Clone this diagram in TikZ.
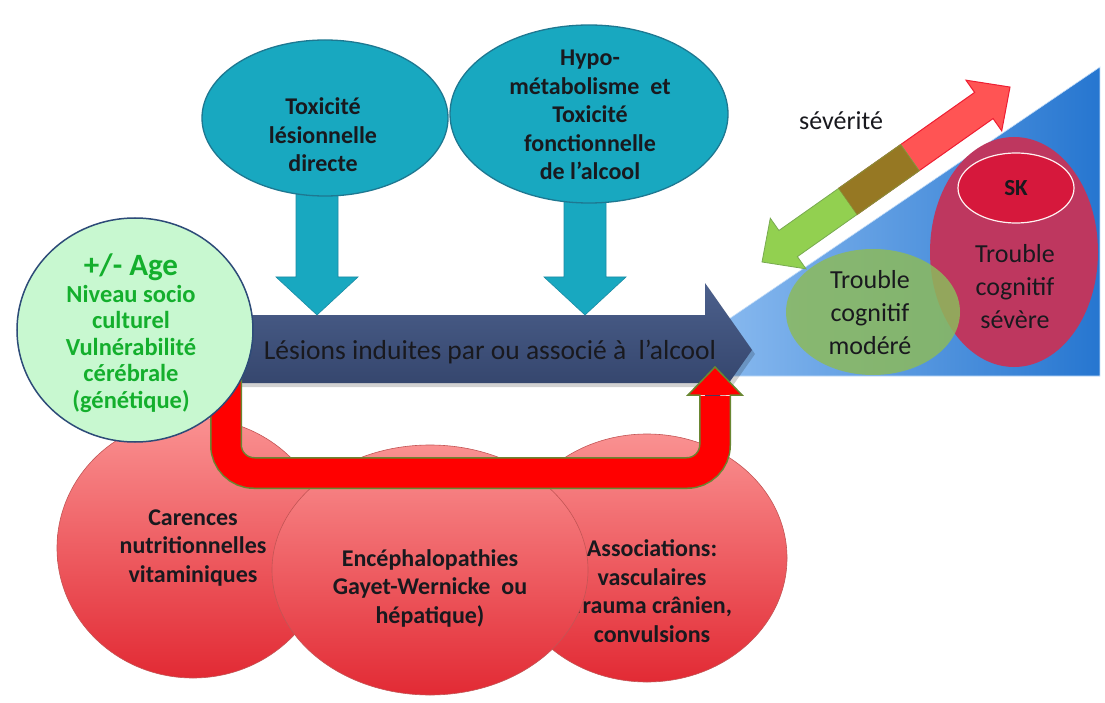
\documentclass[tikz,border=0pt]{standalone}
\usepackage{fontspec}
\setmainfont{Carlito}
\usetikzlibrary{shapes.geometric,calc}
\definecolor{tealF}{RGB}{24,168,192}
\definecolor{tealD}{RGB}{30,120,145}
\definecolor{navyT}{RGB}{76,96,140}
\definecolor{navyB}{RGB}{46,62,100}
\definecolor{mint}{RGB}{200,248,208}
\definecolor{mintD}{RGB}{45,75,120}
\definecolor{ageG}{RGB}{20,175,45}
\definecolor{uRed}{RGB}{255,0,0}
\definecolor{uEdge}{RGB}{105,135,50}
\definecolor{cTop}{RGB}{250,145,145}
\definecolor{cBot}{RGB}{226,42,52}
\definecolor{cEdge}{RGB}{195,85,85}
\definecolor{triL}{RGB}{155,198,245}
\definecolor{triR}{RGB}{38,118,208}
\definecolor{sevF}{RGB}{190,55,95}
\definecolor{skF}{RGB}{214,24,60}
\definecolor{modF}{RGB}{140,186,92}
\definecolor{arrR}{RGB}{255,84,84}
\definecolor{arrRD}{RGB}{238,30,50}
\definecolor{arrG}{RGB}{146,208,80}
\definecolor{arrGD}{RGB}{120,170,80}
\definecolor{oliveS}{RGB}{150,120,35}
\definecolor{txt}{RGB}{25,25,30}
\newcommand{\tealdown}[1]{%
  \path[tealarr] (#1-21,185) -- (#1+21,185) -- (#1+21,277) -- (#1+41,277) -- (#1,315) -- (#1-41,277) -- (#1-21,277) -- cycle;}
\begin{document}
\begin{tikzpicture}[x=1pt,y=-1pt,
  tealell/.style={ellipse, draw=tealD, line width=1.3pt, fill=tealF, inner sep=0pt},
  tealarr/.style={fill=tealF, draw=tealD!60!tealF, line width=0.6pt},
  redcirc/.style={ellipse, top color=cTop, bottom color=cBot, draw=cEdge, line width=0.6pt, inner sep=0pt},
  boldtxt/.style={font=\bfseries\fontsize{24}{28.5}\selectfont, align=center, text=txt},
  regtxt/.style={font=\fontsize{26}{33}\selectfont, align=center, text=txt},
  plain/.style={ellipse, inner sep=0pt}]
\fill[white] (0,0) rectangle (1105,703);
\useasboundingbox (0,0) rectangle (1105,703);

% blue triangle
\path[left color=triL, right color=triR, draw=triL!60!white, line width=0.6pt]
  (645,376) -- (1100,376) -- (1100,67) -- cycle;

% teal down arrows
\coordinate (ta) at (317,315);
\coordinate (tb) at (585,315);
\tealdown{317}
\tealdown{585}

% teal ellipses
\node[tealell, minimum width=246pt, minimum height=156pt] (tox) at (325,118) {};
\node[boldtxt] (toxt) at (323,135) {Toxicité\\lésionnelle\\directe};
\node[tealell, minimum width=278pt, minimum height=178pt] (hypo) at (589,114) {};
\node[boldtxt] (hypot) at (590,115) {Hypo-\\métabolisme\ \ et\\Toxicité\\fonctionnelle\\de l’alcool};

% dark main arrow
\fill[black, opacity=.18] (241,319) -- (708,319) -- (708,287) -- (755,354) -- (708,421) -- (708,387) -- (241,387) -- cycle;
\path[top color=navyT, bottom color=navyB] (238,315) -- (705,315) -- (705,283) -- (752,350) -- (705,417) -- (705,383) -- (238,383) -- cycle;
\node[font=\fontsize{27.5}{32}\selectfont, text=txt] (lesions) at (490,352) {Lésions induites par ou associé à\ \ l’alcool};

% bottom circles
\node[redcirc, minimum width=272pt, minimum height=260pt] (c1) at (193,548) {};
\node[boldtxt] (t1) at (193,548) {Carences\\nutritionnelles\\vitaminiques};
\node[redcirc, minimum width=280pt, minimum height=248pt] (c3) at (647,558) {};
\node[boldtxt] (t3) at (652,591) {Associations:\\vasculaires\\Trauma crânien,\\convulsions};
\node[redcirc, minimum width=316pt, minimum height=250pt] (c2) at (430,570) {};
\node[boldtxt] (t2) at (430,588) {Encéphalopathies\\Gayet-Wernicke\ \ ou\\hépatique)};

% red U arrow
\coordinate (uStart) at (226,345);
\coordinate (uEnd) at (715,396);
\draw[uEdge, line width=32pt, rounded corners=28pt] (uStart) |- (715,473) -- (uEnd);
\draw[uRed, line width=29pt, rounded corners=28pt] (uStart) |- (715,473) -- (uEnd);
\fill[uRed] (688,395) -- (715,367) -- (742,395) -- cycle;
\draw[uEdge, line width=1.5pt] (700.5,395) -- (688,395) -- (715,367) -- (742,395) -- (729.5,395);

% green risk circle
\node[ellipse, fill=mint, draw=mintD, line width=1.5pt, minimum width=236pt, minimum height=224pt] (risk) at (135,330) {};
\node[font=\bfseries\fontsize{24.5}{26.5}\selectfont, text=ageG, align=center] (riskt) at (131,333)
  {{\fontsize{31}{31}\selectfont +/- Age}\\Niveau socio\\culturel\\Vulnérabilité\\cérébrale\\(génétique)};

% right side
\node[plain, fill=sevF, minimum width=168pt, minimum height=230pt] (sev) at (1014,252) {};
\node[plain, fill=skF, draw=white!80!pink, line width=1.2pt, minimum width=116pt, minimum height=70pt] (sk) at (1016,188) {};
\node[font=\bfseries\fontsize{23}{26}\selectfont, text=txt] (skt) at (sk) {SK};
\node[regtxt] (sevt) at (1015,287) {Trouble\\cognitif\\sévère};
\node[plain, fill=modF, fill opacity=.85, minimum width=174pt, minimum height=126pt] (mod) at (873,312) {};
\node[regtxt] (modt) at (870,313) {Trouble\\cognitif\\modéré};

% severity double arrow
\begin{scope}[shift={(762,262)}, rotate=35.2]
\path[fill=arrR, draw=arrRD, line width=1pt] (105,-16) -- (271.5,-16) -- (271.5,-31) -- (303.5,0) -- (271.5,31) -- (271.5,16) -- (105,16) -- cycle;
\path[fill=arrG, draw=arrGD, line width=.8pt] (0,0) -- (32,-31) -- (32,-16) -- (181,-16) -- (181,16) -- (32,16) -- (32,31) -- cycle;
\path[fill=oliveS, draw=arrGD!50!oliveS, line width=.6pt] (105,-16) rectangle (181,16);
\end{scope}
\node[regtxt] (sevlbl) at (841,121) {sévérité};
\end{tikzpicture}
\end{document}
